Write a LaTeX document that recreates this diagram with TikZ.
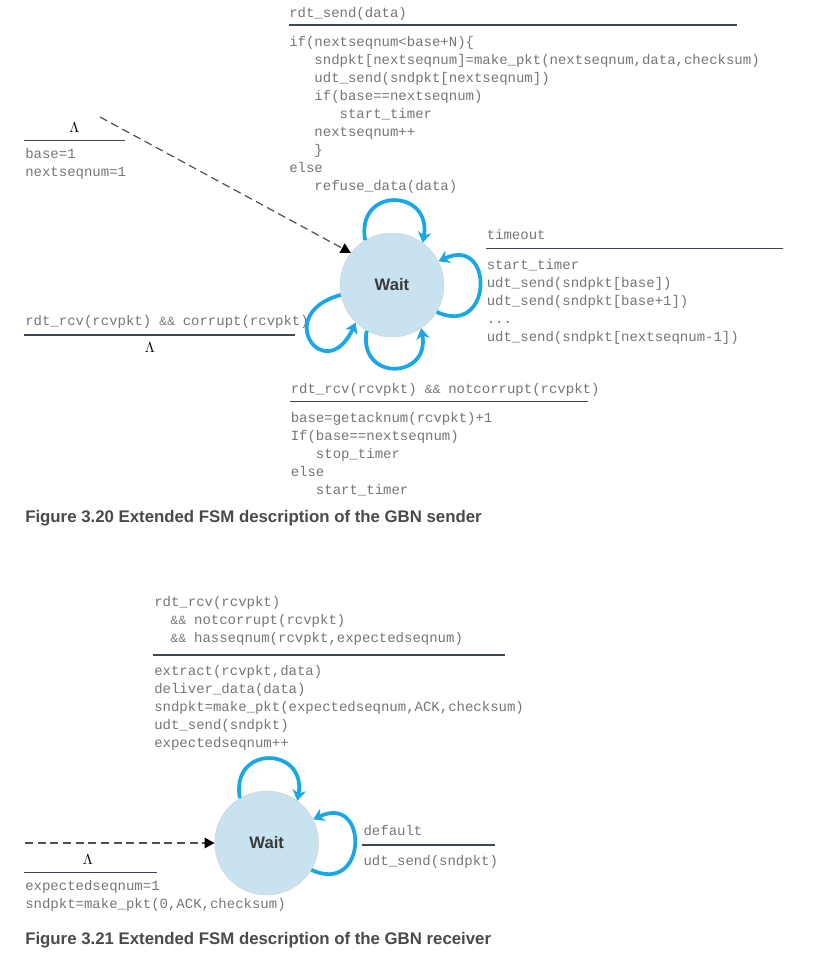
\documentclass[tikz,border=0pt]{standalone}
\usepackage{fontspec}
\setsansfont{Liberation Sans}
\setmonofont{Liberation Mono}
\usetikzlibrary{arrows.meta,positioning,calc}

\definecolor{codegray}{HTML}{767676}
\definecolor{rulecol}{HTML}{3D4452}
\definecolor{waitfill}{HTML}{C8E2F0}
\definecolor{waittext}{HTML}{3A3A3A}
\definecolor{loopblue}{HTML}{1AA7E8}
\definecolor{initgray}{HTML}{505050}
\definecolor{capgray}{HTML}{4A4A4A}

\newcommand{\codefont}{\ttfamily\fontsize{10.5}{13.5}\selectfont}
\newcommand{\indt}{\hphantom{xxx}}
\newcommand{\andand}{\makebox[11pt][c]{\sffamily\fontsize{9}{11}\selectfont\&\&}}

\begin{document}
\begin{tikzpicture}[x=0.75pt, y=0.75pt,
    code/.style={anchor=north west, inner sep=0pt, align=left, text=codegray, font=\codefont},
    lam/.style={inner sep=0pt, font=\fontsize{11}{13}\selectfont},
    rule/.style={draw=rulecol, line width=1pt},
    state/.style={circle, fill=waitfill, draw=black!18, line width=0.3pt, minimum size=78pt,
        inner sep=0pt, text=waittext, font=\sffamily\bfseries\fontsize{12.5}{15}\selectfont},
    selfloop/.style={draw=loopblue, line width=2.8pt, -{Stealth[length=8pt,width=10pt,inset=2.5pt]}},
    init/.style={draw=initgray, line width=0.9pt, dash pattern=on 6pt off 3.5pt,
        -{Triangle[length=7.5pt,width=8pt,color=black]}},
    caption/.style={anchor=base west, inner sep=0pt, text=capgray,
        font=\sffamily\bfseries\fontsize{12.6}{15}\selectfont}]

    \fill[white] (0,0) rectangle (821,-958);
    \useasboundingbox (0,0) rectangle (821,-958);

    % Sender
    \node[state] (wait) at (392,-285) {Wait};

    \node[code] (sendtrig) at (289,-4.4) {\strut rdt\_send(data)};
    \draw[rule] (289,-25) -- (737,-25);
    \node[code] (sendact) at (289,-33.8) {\strut if(nextseqnum<base+N)\{\\
        \indt sndpkt[nextseqnum]=make\_pkt(nextseqnum,data,checksum)\\
        \indt udt\_send(sndpkt[nextseqnum])\\
        \indt if(base==nextseqnum)\\
        \indt\indt start\_timer\\
        \indt nextseqnum++\\
        \indt \}\\
        else\\
        \indt refuse\_data(data)};

    \node[lam] (initlam) at (74.5,-128) {$\Lambda$};
    \draw[rule] (24,-140.7) -- (125,-140.7);
    \node[code] (initact) at (25,-145.4) {\strut base=1\\nextseqnum=1};
    \coordinate (sinit) at (100,-117);

    \node[code] (corrtrig) at (25,-313) {\strut rdt\_rcv(rcvpkt) \andand{} corrupt(rcvpkt)};
    \draw[rule] (24,-335) -- (295,-335);
    \node[lam] (corrlam) at (150,-348) {$\Lambda$};

    \node[code] (totrig) at (486.5,-226.4) {\strut timeout};
    \draw[rule] (486,-248.3) -- (783,-248.3);
    \node[code] (toact) at (486.5,-256.4) {\strut start\_timer\\
        udt\_send(sndpkt[base])\\
        udt\_send(sndpkt[base+1])\\
        ...\\
        udt\_send(sndpkt[nextseqnum-1])};

    \node[code] (acktrig) at (290.5,-380.7) {\strut rdt\_rcv(rcvpkt) \andand{} notcorrupt(rcvpkt)};
    \draw[rule] (290,-401.7) -- (588,-401.7);
    \node[code] (ackact) at (290.5,-409.7) {\strut base=getacknum(rcvpkt)+1\\
        If(base==nextseqnum)\\
        \indt stop\_timer\\
        else\\
        \indt start\_timer};

    \draw[init] (sinit) -- (wait.142);
    \draw[selfloop] (wait.121) .. controls +(100:55) and +(80:55) .. (wait.54);
    \draw[selfloop] (wait.-31) .. controls +(-25:62) and +(25:62) .. (wait.27);
    \draw[selfloop] (wait.-119) .. controls +(-100:52) and +(-80:52) .. (wait.-56);
    \draw[selfloop] (wait.191) .. controls +(195:72) and +(245:72) .. (wait.226);

    \node[caption] (cap1) at (25,-522.3) {Figure 3.20 Extended FSM description of the GBN sender};

    % Receiver
    \node[state] (rwait) at (266.7,-843) {Wait};

    \node[code] (rcvtrig) at (154,-594) {\strut rdt\_rcv(rcvpkt)\\
        \ \ \andand{} notcorrupt(rcvpkt)\\
        \ \ \andand{} hasseqnum(rcvpkt,expectedseqnum)};
    \draw[rule] (153,-655) -- (505,-655);
    \node[code] (rcvact) at (154,-662.4) {\strut extract(rcvpkt,data)\\
        deliver\_data(data)\\
        sndpkt=make\_pkt(expectedseqnum,ACK,checksum)\\
        udt\_send(sndpkt)\\
        expectedseqnum++};

    \coordinate (rinit) at (25,-843);
    \node[lam] (rinitlam) at (88,-860) {$\Lambda$};
    \draw[rule] (24,-872.3) -- (157,-872.3);
    \node[code] (rinitact) at (25,-877.4) {\strut expectedseqnum=1\\
        sndpkt=make\_pkt(0,ACK,checksum)};

    \node[code] (deftrig) at (363.3,-823) {\strut default};
    \draw[rule] (362,-845) -- (495,-845);
    \node[code] (defact) at (363.3,-852.4) {\strut udt\_send(sndpkt)};

    \draw[init] (rinit) -- (rwait.west);
    \draw[selfloop] (rwait.121) .. controls +(100:55) and +(80:55) .. (rwait.54);
    \draw[selfloop] (rwait.-31) .. controls +(-25:62) and +(25:62) .. (rwait.27);

    \node[caption] (cap2) at (25,-944.3) {Figure 3.21 Extended FSM description of the GBN receiver};
\end{tikzpicture}
\end{document}
